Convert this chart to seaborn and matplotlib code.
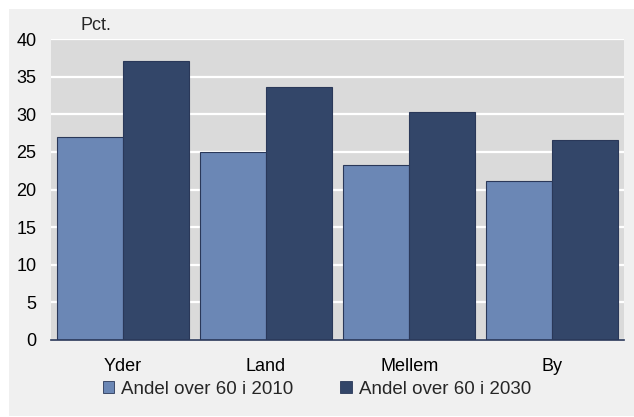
import pandas as pd
import seaborn as sns
import matplotlib.pyplot as plt
from matplotlib.patches import Rectangle, Patch

regions = ["Yder", "Land", "Mellem", "By"]
share_2010 = [27.0, 25.0, 23.2, 21.1]
share_2030 = [37.1, 33.6, 30.3, 26.6]
series = ["Andel over 60 i 2010", "Andel over 60 i 2030"]
colors = ["#6b87b5", "#334669"]

df = pd.DataFrame({
    "region": regions * 2,
    "value": share_2010 + share_2030,
    "serie": [series[0]] * 4 + [series[1]] * 4,
})

sns.set_style("white")
plt.rcParams["font.family"] = ["Liberation Sans", "DejaVu Sans"]

fig = plt.figure(figsize=(6.34, 4.17), dpi=100)
fig.patch.set_facecolor("white")
fig.patches.append(Rectangle((9 / 634, 1 / 417), 1, 407 / 417, transform=fig.transFigure,
                             facecolor="#f0f0f0", edgecolor="none", zorder=-10))

ax = fig.add_axes([51 / 634, 77 / 417, 573 / 634, 301 / 417])
ax.set_facecolor("#dadada")
sns.barplot(data=df, x="region", y="value", hue="serie", palette=colors, saturation=1,
            width=0.92, edgecolor="#2a3859", linewidth=0.8, ax=ax, legend=False)

ax.set_ylim(0, 40)
ax.set_yticks(range(0, 41, 5))
ax.yaxis.grid(True, color="white", linewidth=1.6)
ax.set_axisbelow(True)
for s in ["top", "right", "left"]:
    ax.spines[s].set_visible(False)
ax.spines["bottom"].set_color("#2a3859")
ax.spines["bottom"].set_linewidth(1.2)
ax.tick_params(axis="both", length=0, labelsize=13, colors="black")
ax.tick_params(axis="y", pad=10.5)
ax.tick_params(axis="x", pad=13)
ax.set_xlabel("")
ax.set_ylabel("")
ax.text(80 / 634, 392 / 417, "Pct.", transform=fig.transFigure, fontsize=13,
        va="center", ha="left")

handles = [Patch(facecolor=c, edgecolor="#2a3859", linewidth=0.6) for c in colors]
fig.legend(handles, series, loc="center", bbox_to_anchor=(0.5, 28 / 417), ncol=2,
           frameon=False, fontsize=13.5, handlelength=0.6, handleheight=0.6,
           handletextpad=0.4, columnspacing=2.5)

fig.savefig("out.png", dpi=100)
